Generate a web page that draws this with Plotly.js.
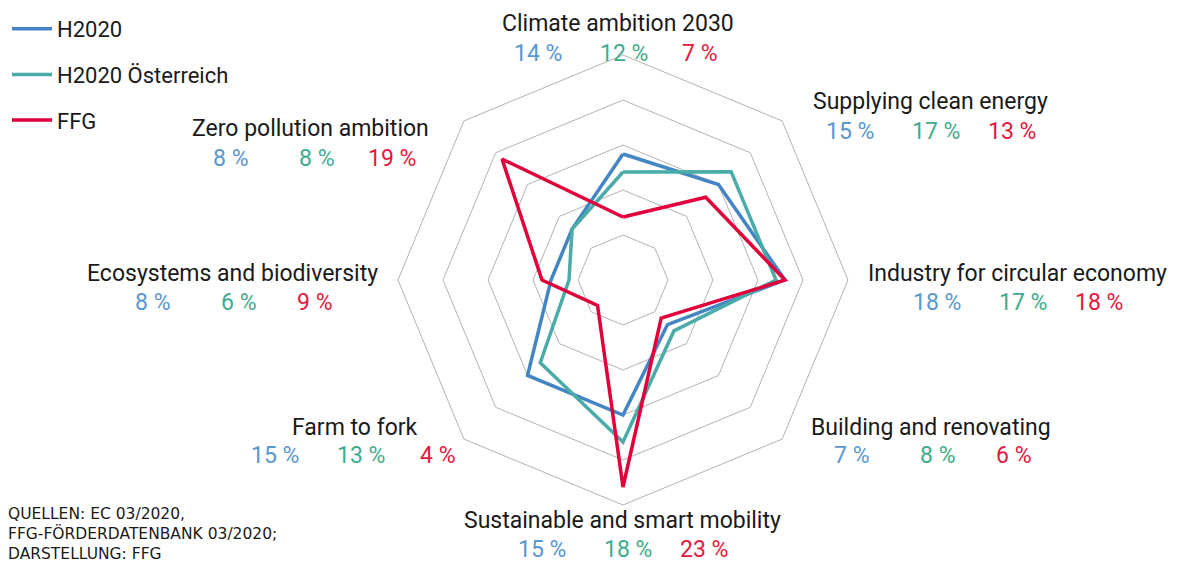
<!DOCTYPE html>
<html>
<head>
<meta charset="utf-8">
<script src="https://cdn.plot.ly/plotly-3.0.1.min.js"></script>
<style>
  html, body { margin: 0; padding: 0; background: #fff; }
  #chart { width: 1177px; height: 564px; }
</style>
</head>
<body>
<div id="chart"></div>
<script>
// categories, clockwise from the top
const categories = [
    "Climate ambition 2030",
    "Supplying clean energy",
    "Industry for circular economy",
    "Building and renovating",
    "Sustainable and smart mobility",
    "Farm to fork",
    "Ecosystems and biodiversity",
    "Zero pollution ambition"
];

// shares in %
const h2020 = [14, 15, 18, 7, 15, 15, 8, 8];
const h2020At = [12, 17, 17, 8, 18, 13, 6, 8];
const ffg = [7, 13, 18, 6, 23, 4, 9, 19];

const seriesNames = ["H2020", "H2020 Österreich", "FFG"];
const lineColors = ["#4485c3", "#4aaca8", "#e2003b"];
const textColors = ["#5a96cf", "#3eac8c", "#e5173f"];

const W = 1177, H = 564;

// where each label block sits (pixel centre of the category text)
const labelPos = [
    [618, 24], [930, 102], [1017, 273], [931, 427],
    [622, 520], [355, 427], [232, 273], [310, 129]
];
const pctOffset = [-80, 6, 82];

const fontFam = "Roboto, 'DejaVu Sans', sans-serif";

function closed(arr) {
    return arr.concat([arr[0]]);
}

const allSeries = [h2020, h2020At, ffg];

const traces = allSeries.map((vals, i) => ({
    type: "scatterpolar",
    mode: "lines",
    r: closed(vals),
    theta: closed(categories),
    name: seriesNames[i],
    legendgroup: "g" + i,
    line: { color: lineColors[i], width: 3.5 },
    hoverinfo: "skip"
}));

const annotations = [];
categories.forEach((cat, k) => {
    const [cx, cy] = labelPos[k];
    annotations.push({
        text: cat,
        x: cx / W, y: 1 - cy / H,
        xref: "paper", yref: "paper",
        xanchor: "center", yanchor: "middle",
        showarrow: false,
        font: { family: fontFam, size: 23, color: "#1a1a1a" }
    });
    allSeries.forEach((vals, i) => {
        annotations.push({
            text: vals[k] + " %",
            x: (cx + pctOffset[i]) / W, y: 1 - (cy + 29) / H,
            xref: "paper", yref: "paper",
            xanchor: "center", yanchor: "middle",
            showarrow: false,
            font: { family: fontFam, size: 23, color: textColors[i] }
        });
    });
});

annotations.push({
    text: "QUELLEN: EC 03/2020,<br>FFG-FÖRDERDATENBANK 03/2020;<br>DARSTELLUNG: FFG",
    x: 6 / W, y: 1 - 534 / H,
    xref: "paper", yref: "paper",
    xanchor: "left", yanchor: "middle", align: "left",
    showarrow: false,
    font: { family: "'DejaVu Sans', sans-serif", size: 15.5, color: "#1a1a1a" }
});

const cx0 = 623, cy0 = 280, rad = 225;

const layout = {
    width: W,
    height: H,
    margin: { l: 0, r: 0, t: 0, b: 0 },
    paper_bgcolor: "#fff",
    plot_bgcolor: "#fff",
    showlegend: true,
    legend: {
        x: 7 / W, y: 1 - 8 / H, xanchor: "left", yanchor: "top",
        font: { family: fontFam, size: 22, color: "#1a1a1a" },
        tracegroupgap: 14,
        itemwidth: 40,
        bgcolor: "rgba(0,0,0,0)"
    },
    polar: {
        domain: {
            x: [(cx0 - rad) / W, (cx0 + rad) / W],
            y: [1 - (cy0 + rad) / H, 1 - (cy0 - rad) / H]
        },
        gridshape: "linear",
        bgcolor: "#fff",
        radialaxis: {
            range: [0, 25],
            tickvals: [5, 10, 15, 20, 25],
            showticklabels: false,
            ticks: "",
            showline: false,
            gridcolor: "#b3b3b3",
            gridwidth: 1
        },
        angularaxis: {
            rotation: 90,
            direction: "clockwise",
            showticklabels: false,
            ticks: "",
            showgrid: false,
            showline: true,
            linecolor: "#b3b3b3",
            linewidth: 1
        }
    },
    annotations: annotations
};

Plotly.newPlot("chart", traces, layout, { displayModeBar: false, staticPlot: true });
</script>
</body>
</html>
